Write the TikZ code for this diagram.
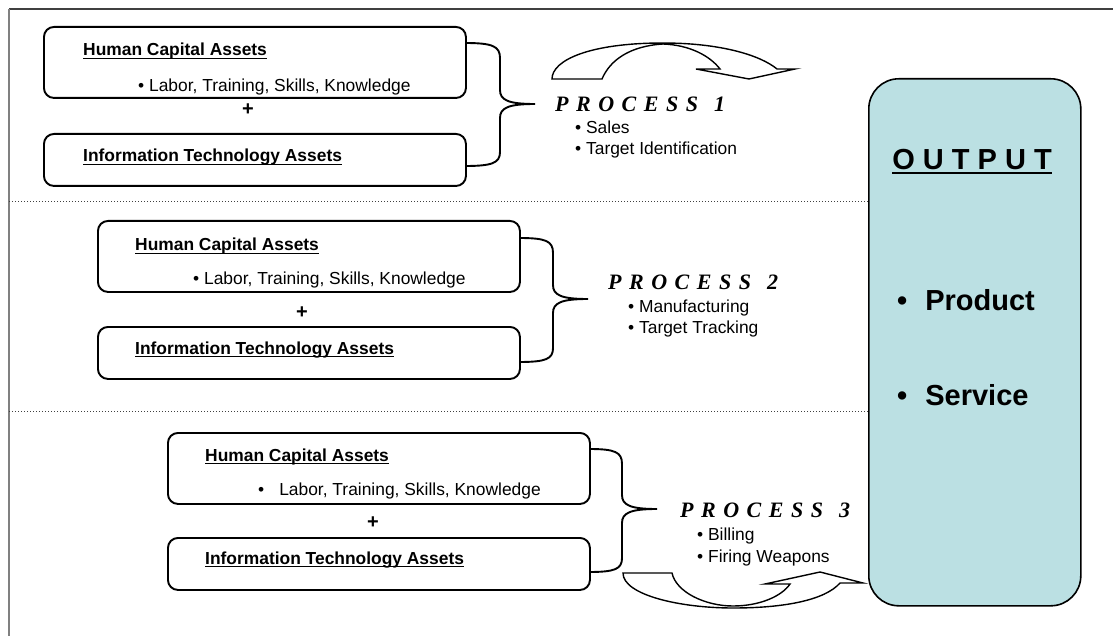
\documentclass[tikz,border=0pt]{standalone}
\usepackage{fontspec}
\setmainfont{Liberation Sans}
\newfontfamily\procfont{Liberation Serif}
\newcommand{\myul}[1]{\setbox0\hbox{#1}\rlap{\rule[-3pt]{\wd0}{1.3pt}}\box0}
\newcommand{\myulb}[1]{\setbox0\hbox{#1}\rlap{\rule[-4.5pt]{\wd0}{2pt}}\box0}
\newcommand{\proctext}[1]{P\kern7.5pt R\kern7.5pt O\kern7.5pt C\kern7.5pt E\kern7.5pt S\kern7.5pt S\kern16pt #1}
\definecolor{outfill}{HTML}{BBE0E3}
\begin{document}
\begin{tikzpicture}[x=1pt,y=-1pt,
  assetbox/.style={draw, line width=1.9pt, rounded corners=10pt, anchor=north west, minimum width=422pt, inner sep=0pt},
  hcbox/.style={assetbox, minimum height=71pt},
  itbox/.style={assetbox, minimum height=52pt},
  txt/.style={inner sep=0pt, anchor=base west, font=\fontsize{17.4}{20}\selectfont},
  ttl/.style={txt, font=\fontsize{17.4}{20}\selectfont\bfseries},
  plussign/.style={inner sep=0pt, font=\fontsize{20}{22}\selectfont\bfseries},
  proc/.style={inner sep=0pt, anchor=base west, font=\procfont\fontsize{22}{24}\selectfont\bfseries\itshape},
  bracestyle/.style={draw, line width=1.9pt},
  curvedarrow/.style={draw, fill=white, line width=1.4pt, line join=miter},
  sep/.style={draw, line width=1pt, dash pattern=on 1.2pt off 1.8pt, black!75},
  outbox/.style={draw, fill=outfill, line width=1.6pt, rounded corners=30pt, anchor=north west, minimum width=212pt, minimum height=527pt, inner sep=0pt},
  outtxt/.style={inner sep=0pt, font=\fontsize{29}{32}\selectfont\bfseries}
]
\useasboundingbox (0,0) rectangle (1113,636);
\fill[white] (0,0) rectangle (1113,636);
% frame
\draw[line width=1.4pt, black!75] (9,9) -- (1113,9);
\draw[line width=2pt, black!50] (9,9) -- (9,636);
% separators
\coordinate (s1a) at (9,202); \coordinate (s1b) at (868,202);
\coordinate (s2a) at (9,411); \coordinate (s2b) at (868,411);
\draw[sep] (s1a) -- (s1b);
\draw[sep] (s2a) -- (s2b);

% OUTPUT box
\node[outbox] (out) at (868,78) {};
\node[outtxt, anchor=base] (outt) at (972,170) {\myulb{O U T P U T}};
\node[outtxt, anchor=base west] (prod) at (897,310) {•\kern18pt Product};
\node[outtxt, anchor=base west] (serv) at (897,405) {•\kern18pt Service};

% ---------- Panel 1 ----------
\node[hcbox] (hc1) at (43,26) {};
\node[ttl] (hc1t) at (83,56) {\myul{Human Capital Assets}};
\node[txt] (hc1l) at (138,92) {• Labor, Training, Skills, Knowledge};
\node[plussign] (p1) at (248,110) {+};
\node[itbox] (it1) at (43,133) {};
\node[ttl] (it1t) at (83,162) {\myul{Information Technology Assets}};
\draw[bracestyle] (465,43) .. controls (492,43) and (500,46) .. (500,58) -- (500,90)
  .. controls (500,100) and (508,104) .. (535,104)
  .. controls (508,104) and (500,108) .. (500,118) -- (500,152)
  .. controls (500,163) and (492,166) .. (465,166);
\node[proc] (pr1) at (555,112) {\proctext{1}};
\node[txt] (pr1a) at (575,134) {• Sales};
\node[txt] (pr1b) at (575,155) {• Target Identification};
\draw[curvedarrow] (552,79) .. controls (552,60) and (590,43) .. (663,43)
  .. controls (720,43) and (760,55) .. (777,69) -- (795,69) -- (749,79) -- (696,69) -- (720,69)
  .. controls (710,56) and (690,45) .. (663,44)
  .. controls (630,46) and (610,60) .. (602,79) -- cycle;

% ---------- Panel 2 ----------
\node[hcbox] (hc2) at (97,220) {};
\node[ttl] (hc2t) at (135,251) {\myul{Human Capital Assets}};
\node[txt] (hc2l) at (193,284) {• Labor, Training, Skills, Knowledge};
\node[plussign] (p2) at (302,313) {+};
\node[itbox] (it2) at (97,326) {};
\node[ttl] (it2t) at (135,354) {\myul{Information Technology Assets}};
\draw[bracestyle] (519,238) .. controls (546,238) and (553,241) .. (553,253) -- (553,285)
  .. controls (553,295) and (561,299) .. (588,299)
  .. controls (561,299) and (553,303) .. (553,313) -- (553,348)
  .. controls (553,359) and (546,362) .. (519,362);
\node[proc] (pr2) at (608,289) {\proctext{2}};
\node[txt] (pr2a) at (628,312) {• Manufacturing};
\node[txt] (pr2b) at (628,333) {• Target Tracking};

% ---------- Panel 3 ----------
\node[hcbox] (hc3) at (167,432) {};
\node[ttl] (hc3t) at (205,461) {\myul{Human Capital Assets}};
\node[txt] (hc3l) at (258,495) {•\kern15pt Labor, Training, Skills, Knowledge};
\node[plussign] (p3) at (373,523) {+};
\node[itbox] (it3) at (167,537) {};
\node[ttl] (it3t) at (205,564) {\myul{Information Technology Assets}};
\draw[bracestyle] (589,449) .. controls (615,449) and (622,452) .. (622,464) -- (622,495)
  .. controls (622,505) and (630,509) .. (657,509)
  .. controls (630,509) and (622,513) .. (622,523) -- (622,558)
  .. controls (622,569) and (615,572) .. (589,572);
\node[proc] (pr3) at (680,517) {\proctext{3}};
\node[txt] (pr3a) at (697,540) {• Billing};
\node[txt] (pr3b) at (697,562) {• Firing Weapons};
\draw[curvedarrow] (623,573) -- (672,573)
  .. controls (676,592) and (705,606) .. (733,606)
  .. controls (760,606) and (782,596) .. (790,584)
  -- (765,584) -- (820,572) -- (863,583) -- (840,583)
  .. controls (825,600) and (785,608) .. (733,608)
  .. controls (680,608) and (623,595) .. (623,573) -- cycle;
\end{tikzpicture}
\end{document}
